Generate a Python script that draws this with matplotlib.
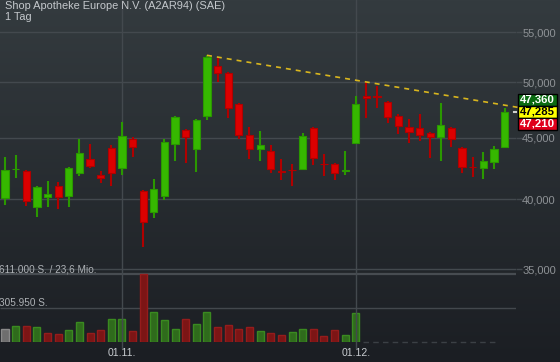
import numpy as np
import matplotlib.pyplot as plt
from matplotlib.colors import LinearSegmentedColormap
from matplotlib.patches import Rectangle
from matplotlib.ticker import NullLocator
from matplotlib.transforms import blended_transform_factory

plt.rcParams['font.family'] = ['Liberation Sans', 'DejaVu Sans']

W, H = 560, 362

title = "Shop Apotheke Europe N.V. (A2AR94) (SAE)"
period = "1 Tag"

# daily candles (index 0 = first day shown)
opens = [40123, 42340, 42195, 39396, 40154, 41005, 40231, 42083, 43172, 41874,
         44087, 42437, 44850, 40616, 39066, 40231, 44425, 45652, 44053, 46914,
         51579, 50866, 47973, 45193, 44053, 43836, 42180, 42330, 42405, 45827,
         42790, 42762, 42220, 44560, 48711, 48680, 48128, 46861, 45888, 45800,
         45366, 45022, 45800, 44087, 42580, 42437, 42926, 44222]
highs = [43360, 43503, 42300, 41029, 41422, 41343, 42518, 44876, 44450, 42219,
         44340, 46354, 45022, 40717, 41579, 44876, 46887, 45740, 46620, 52643,
         52342, 50992, 48037, 45888, 45565, 44365, 43197, 42787, 45366, 45888,
         43611, 42843, 43861, 48711, 50029, 49677, 48220, 47067, 46593, 47067,
         45479, 48065, 45888, 44171, 43337, 43777, 44255, 47608]
lows = [39591, 41683, 39516, 38696, 39441, 39291, 39441, 41843, 42486, 41288,
        41052, 41922, 43337, 36500, 38622, 39971, 43057, 42893, 42163, 46558,
        50057, 46736, 44902, 43221, 43057, 42083, 41525, 41052, 42324, 42730,
        41843, 41525, 41922, 44475, 46736, 47650, 46239, 45331, 44560, 44730,
        43304, 43008, 44222, 42034, 41763, 41604, 42405, 44087]
closes = [42300, 42360, 39872, 40927, 40407, 40154, 42437, 43669, 42648, 41636,
          42034, 45107, 44171, 38284, 40771, 44620, 46771, 45073, 46531, 52472,
          50866, 47635, 45245, 44003, 44340, 42405, 42140, 42300, 45133, 43304,
          42760, 42034, 42260, 47973, 48497, 48650, 46771, 45975, 45452, 45220,
          45022, 46090, 44850, 42518, 42560, 43008, 44003, 47285]

# volume only available for the first 34 days
volumes = [120000, 141000, 147000, 133000, 81000, 72000, 111000, 184000, 78000, 108000,
           211000, 205000, 96000, 611900, 274000, 199000, 115000, 205000, 160000, 274000,
           133000, 154000, 120000, 138000, 102000, 81000, 66000, 88000, 115000, 115000,
           57000, 106000, 66000, 259000]

date_labels = ["01.11.", "01.12."]
date_pos = [11, 33]
price_ticks = [35000, 40000, 45000, 50000, 55000]
quote_labels = ["47,360", "47,285", "47,210"]
vol_max_label = "611.000 S. / 23,6 Mio."
vol_half_label = "305.950 S."
vol_half = 305950

GRID = '#43494e'
GREEN, GREEN_EDGE = '#36b800', '#2a9800'
RED, RED_EDGE = '#dc0000', '#b00000'


def fx(px):
    return px / W


def fy(py):
    return 1 - py / H


fig = plt.figure(figsize=(W / 100, H / 100), dpi=100)

# background gradient
bg = fig.add_axes([0, 0, 1, 1])
cmap = LinearSegmentedColormap.from_list('bg', ['#343b3f', '#1b1e23'])
bg.imshow(np.linspace(0, 1, 256).reshape(-1, 1), aspect='auto', cmap=cmap, extent=[0, 1, 0, 1])
bg.axis('off')

# price panel
ax = fig.add_axes([0, fy(272), fx(516), 272 / H])
ax.patch.set_alpha(0)
ax.set_yscale('log')
ax.set_xlim(-0.47, 48.07)
ax.set_ylim(34822, 58498)
for s in ax.spines.values():
    s.set_visible(False)

x = np.arange(len(closes))
o, h, l, c = (np.array(v, dtype=float) for v in (opens, highs, lows, closes))
up = c >= o
ax.vlines(x, l, h, colors=np.where(up, GREEN_EDGE, RED_EDGE), lw=1.5, zorder=3)
ax.bar(x, np.abs(c - o), bottom=np.minimum(o, c), width=0.68,
       color=np.where(up, GREEN, RED), edgecolor=np.where(up, GREEN_EDGE, RED_EDGE),
       lw=0.8, zorder=4)

ax.set_xticks([])
ax.yaxis.tick_right()
ax.set_yticks(price_ticks)
ax.set_yticklabels([f"{t:,}" for t in price_ticks])
ax.yaxis.set_minor_locator(NullLocator())
ax.tick_params(axis='y', length=4, width=1, color=GRID, pad=0.5, labelsize=8, labelcolor='#8e9296')
ax.grid(axis='y', color=GRID, lw=1)
for p in date_pos:
    ax.axvline(p, color=GRID, lw=1, zorder=1)

# resistance line through the two highs
i0, i1 = 19, 34
slope = (np.log(highs[i1]) - np.log(highs[i0])) / (i1 - i0)
xe = 52.2
ax.plot([i0, xe], [highs[i0], highs[i0] * np.exp(slope * (xe - i0))],
        ls=(0, (3, 3)), color='#d9b61e', lw=1.2, clip_on=False, zorder=5)
ax.plot([47.9, 48.07], [closes[-1], closes[-1]], color='#d0d0d0', lw=1.5, clip_on=False, zorder=5)

# volume panel
vx = fig.add_axes([0, fy(342), fx(516), 70 / H])
vx.patch.set_alpha(0)
vx.set_xlim(-0.47, 48.07)
vx.set_ylim(0, max(volumes) * 70 / 68)
vx.axis('off')

vcol, vedge = ['#6e6e6e'], ['#8a8a8a']
for i in range(1, len(volumes)):
    if closes[i] >= closes[i - 1]:
        vcol.append('#2f6b1c')
        vedge.append('#3a8a20')
    else:
        vcol.append('#7c1515')
        vedge.append('#951c1c')
vx.bar(np.arange(len(volumes)), volumes, width=0.66, color=vcol, edgecolor=vedge, lw=1, zorder=2)
vx.hlines(max(volumes), -0.47, 48.07, color='#474c51', lw=1.6, zorder=1)
vx.hlines(vol_half, -0.47, 48.07, color='#43484d', lw=1, zorder=1)
vx.hlines(0, len(volumes) - 0.3, 46.4, color='#3b4045', lw=1, ls=(0, (4, 3)), clip_on=False)
for p in date_pos:
    vx.axvline(p, ymin=-0.09, ymax=1, color=GRID, lw=1, clip_on=False, zorder=3)

vx.text(-0.6, max(volumes), vol_max_label, fontsize=7.2, color='#aeb2b6', va='bottom', ha='left')
vx.text(-0.6, vol_half, vol_half_label, fontsize=7.2, color='#aeb2b6', va='bottom', ha='left')

tr = blended_transform_factory(vx.transData, fig.transFigure)
for p, lab in zip(date_pos, date_labels):
    vx.text(p, fy(353), lab, transform=tr, ha='center', va='center', fontsize=7.6, color='#c8ccd0')

# header
fig.text(fx(5), fy(1), title, fontsize=7.9, color='#c4c8cc', va='top', ha='left')
fig.text(fx(5), fy(11.5), period, fontsize=7.9, color='#c4c8cc', va='top', ha='left')

# quote boxes at the right
fig.canvas.draw()
yc = ax.transData.transform((0, closes[-1]))[1]
yc_px = H - yc
box_style = [('#0b6b12', 'white'), ('#ffff00', 'black'), ('#e0001b', 'white')]
for k, (lab, (bgc, fc)) in enumerate(zip(quote_labels, box_style)):
    top = yc_px - 18 + 12 * k
    fig.patches.append(Rectangle((fx(518), fy(top + 12)), 39 / W, 12 / H, transform=fig.transFigure,
                                 facecolor=bgc, edgecolor='black', lw=1, zorder=6))
    fig.text(fx(537.5), fy(top + 6), lab, fontsize=8.2, fontweight='bold', color=fc,
             ha='center', va='center', zorder=7)

fig.savefig('out.png', dpi=100)
